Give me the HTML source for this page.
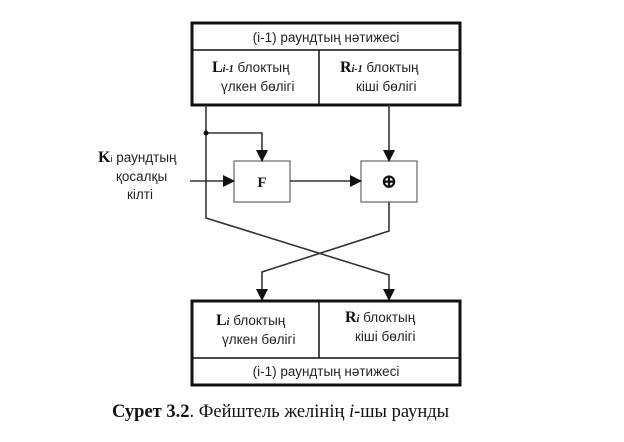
<!DOCTYPE html>
<html><head><style>
body{margin:0;background:#fff;width:624px;height:437px;overflow:hidden}
.s{font-family:"Liberation Sans","DejaVu Sans",sans-serif;fill:#222}
.r{font-family:"Liberation Serif","DejaVu Serif",serif;fill:#111}
</style></head><body>
<svg width="624" height="437" viewBox="0 0 624 437">
<defs><marker id="a" markerWidth="12" markerHeight="12" refX="11" refY="6" orient="auto" markerUnits="userSpaceOnUse"><path d="M0,0 L12,6 L0,12 Z" fill="#111"/></marker></defs>
<g fill="none" stroke="#111">
<rect x="192" y="23" width="268" height="82" stroke-width="3"/>
<line x1="192" y1="50" x2="460" y2="50" stroke-width="1.5"/>
<line x1="319" y1="50" x2="319" y2="105" stroke-width="1.5"/>
<rect x="192" y="301" width="268" height="84" stroke-width="3"/>
<line x1="192" y1="358" x2="460" y2="358" stroke-width="1.5"/>
<line x1="319" y1="301" x2="319" y2="358" stroke-width="1.5"/>
<rect x="234" y="161" width="56" height="41" stroke="#666" stroke-width="1.2"/>
<rect x="361" y="161" width="56" height="41" stroke="#666" stroke-width="1.2"/>
<g stroke-width="1.6" stroke="#333">
<polyline points="206,105 206,218 389,275 389,300" marker-end="url(#a)"/>
<polyline points="206,133 262,133 262,161" marker-end="url(#a)"/>
<line x1="389" y1="105" x2="389" y2="161" marker-end="url(#a)"/>
<line x1="190" y1="181" x2="234" y2="181" marker-end="url(#a)"/>
<line x1="290" y1="181" x2="361" y2="181" marker-end="url(#a)"/>
<polyline points="389,202 389,231 262,272 262,300" marker-end="url(#a)"/>
</g>
</g>
<circle cx="206" cy="133" r="2.5" fill="#111"/>
<g class="s" font-size="13.5">
<text x="326" y="42" text-anchor="middle" class="s">(і-1) раундтың нәтижесі</text>
<text x="212" y="72" class="s"><tspan class="r" font-weight="bold" font-size="16">L</tspan><tspan class="r" font-style="italic" font-weight="bold" font-size="10">i-1</tspan> блоктың</text>
<text x="221" y="91" class="s">үлкен бөлігі</text>
<text x="340" y="72" class="s"><tspan class="r" font-weight="bold" font-size="16">R</tspan><tspan class="r" font-style="italic" font-weight="bold" font-size="10">i-1</tspan> блоктың</text>
<text x="356" y="91" class="s">кіші бөлігі</text>
<text x="98" y="162" class="s"><tspan class="r" font-weight="bold" font-size="16">K</tspan><tspan font-size="9">i</tspan> раундтың</text>
<text x="116" y="181" class="s">қосалқы</text>
<text x="127" y="199" class="s">кілті</text>
<text x="216" y="325" class="s"><tspan class="r" font-weight="bold" font-size="16">L</tspan><tspan class="r" font-style="italic" font-weight="bold" font-size="10">i</tspan>  блоктың</text>
<text x="222" y="344" class="s">үлкен бөлігі</text>
<text x="345" y="322" class="s"><tspan class="r" font-weight="bold" font-size="16">R</tspan><tspan class="r" font-style="italic" font-weight="bold" font-size="10">i</tspan>   блоктың</text>
<text x="355" y="341" class="s">кіші бөлігі</text>
<text x="326" y="376" text-anchor="middle" class="s">(і-1) раундтың нәтижесі</text>
</g>
<text x="262" y="187" font-size="15" class="r" font-weight="bold" text-anchor="middle">F</text>
<text x="389" y="188" font-size="20" class="r" font-weight="bold" text-anchor="middle">⊕</text>
<text x="112" y="417" font-size="18.5" class="r"><tspan font-weight="bold">Сурет 3.2</tspan>. Фейштель желінің <tspan font-style="italic">і</tspan>-шы раунды</text>
</svg>
</body></html>
